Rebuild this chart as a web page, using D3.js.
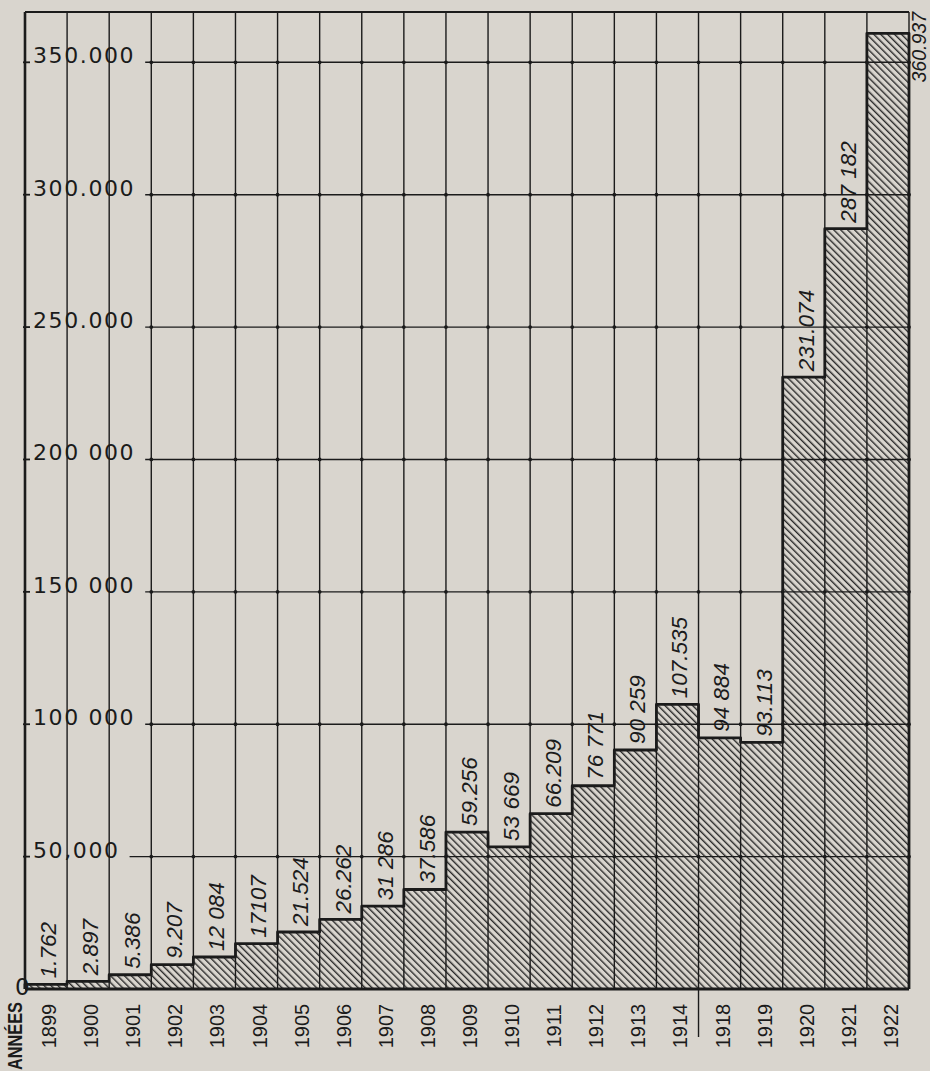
<!DOCTYPE html>
<html>
<head>
<meta charset="utf-8">
<script src="https://cdn.jsdelivr.net/npm/d3@7/dist/d3.min.js"></script>
<style>
  html, body { margin: 0; padding: 0; background: #d9d5ce; }
  svg { display: block; }
</style>
</head>
<body>
<svg id="chart" width="930" height="1071"></svg>
<script>
// Years shown on the horizontal axis (1915-1917 are skipped)
const years = ["1899","1900","1901","1902","1903","1904","1905","1906","1907","1908",
               "1909","1910","1911","1912","1913","1914","1918","1919","1920","1921","1922"];
// Yearly totals
const values = [1762, 2897, 5386, 9207, 12084, 17107, 21524, 26262, 31286, 37586,
                59256, 53669, 66209, 76771, 90259, 107535, 94884, 93113, 231074, 287182, 360937];
// Value labels written above each bar
const valueLabels = ["1.762","2.897","5.386","9.207","12 084","17107","21.524","26.262","31 286","37.586",
                     "59.256","53 669","66.209","76 771","90 259","107.535","94 884","93.113","231.074","287 182","360.937"];
// Vertical axis ticks and their labels
const tickValues = [0, 50000, 100000, 150000, 200000, 250000, 300000, 350000];
const tickLabels = ["0","50,000","100 000","150 000","200 000","250.000","300.000","350.000"];
const axisTitle = "ANNÉES";

const ink = "#1b1b1b";
const plotLeft = 25, plotRight = 909, plotTop = 12, plotBase = 989;

const svg = d3.select("#chart");
svg.append("rect").attr("width", 930).attr("height", 1071).attr("fill", "#d9d5ce");

const x = d3.scaleBand().domain(years).range([plotLeft, plotRight]).padding(0);
const y = d3.scaleLinear().domain([0, 369000]).range([plotBase, plotTop]);

// diagonal hatching for the bars
const defs = svg.append("defs");
const pat = defs.append("pattern")
  .attr("id", "hatch").attr("patternUnits", "userSpaceOnUse")
  .attr("width", 4.9).attr("height", 10)
  .attr("patternTransform", "rotate(-45)");
pat.append("rect").attr("x", 0).attr("y", 0).attr("width", 1.4).attr("height", 10).attr("fill", "#2a2a2a");

// bars
svg.append("g").selectAll("rect").data(years).join("rect")
  .attr("x", d => x(d))
  .attr("y", (d, i) => y(values[i]))
  .attr("width", x.bandwidth())
  .attr("height", (d, i) => y(0) - y(values[i]))
  .attr("fill", "url(#hatch)");

// vertical column lines
const grid = svg.append("g").attr("stroke", ink).attr("fill", "none");
const bounds = years.map(d => x(d)).concat([plotRight]);
grid.selectAll("line.v").data(bounds).join("line")
  .attr("class", "v")
  .attr("x1", d => d).attr("x2", d => d)
  .attr("y1", plotTop).attr("y2", plotBase)
  .attr("stroke-width", (d, i) => (i === 0 ? 2.6 : 1.4));

// top border
grid.append("line").attr("x1", plotLeft).attr("x2", plotRight)
  .attr("y1", plotTop).attr("y2", plotTop).attr("stroke-width", 2);

// y-axis labels, horizontal lines start after each label
const yl = svg.append("g").attr("font-family", "DejaVu Sans, sans-serif").attr("fill", ink);
tickValues.forEach((v, i) => {
  if (v === 0) {
    yl.append("text").attr("x", 15).attr("y", y(0) + 6)
      .attr("font-size", 23).text(tickLabels[i]);
    return;
  }
  const t = yl.append("text").attr("x", 33).attr("y", y(v) + 1)
    .attr("font-size", 22).attr("letter-spacing", 1.6).text(tickLabels[i]);
  const end = 33 + t.node().getComputedTextLength() + 10;
  grid.append("line").attr("x1", end).attr("x2", plotRight)
    .attr("y1", y(v)).attr("y2", y(v)).attr("stroke-width", 1.4);
  // small tick on the left axis
  grid.append("line").attr("x1", plotLeft - 2).attr("x2", plotLeft + 5)
    .attr("y1", y(v)).attr("y2", y(v)).attr("stroke-width", 1.8);
  // dots at the grid crossings
  bounds.forEach(bx => {
    if (bx > end) {
      svg.append("circle").attr("cx", bx).attr("cy", y(v)).attr("r", 1.9).attr("fill", ink);
    }
  });
});

// step outline along the bar tops
const pts = [[x(years[0]), y(0)]]
  .concat(years.map((d, i) => [x(d), y(values[i])]))
  .concat([[plotRight, y(values[values.length - 1])], [plotRight, y(0)]]);
svg.append("path")
  .attr("d", d3.line().curve(d3.curveStepAfter)(pts))
  .attr("fill", "none").attr("stroke", ink).attr("stroke-width", 2.8)
  .attr("stroke-linejoin", "round");

// baseline
svg.append("line").attr("x1", plotLeft).attr("x2", plotRight)
  .attr("y1", plotBase).attr("y2", plotBase)
  .attr("stroke", ink).attr("stroke-width", 2.8);

// value labels, rotated, above each bar
const vl = svg.append("g").attr("font-family", "Liberation Sans, Arial, sans-serif")
  .attr("font-style", "italic").attr("font-size", 22.5).attr("fill", ink);
years.forEach((d, i) => {
  const cx = x(d) + x.bandwidth() / 2 + 2;
  const t = vl.append("text").text(valueLabels[i]);
  const len = t.node().getComputedTextLength();
  const yStart = y(values[i]) - 6;
  if (yStart - len < plotTop + 4) {
    // no room inside the column: write it beside the last column
    t.attr("text-anchor", "end").attr("dy", "0.35em").attr("font-size", 19.5)
      .attr("transform", `translate(${plotRight + 10},${plotTop}) rotate(-90)`);
  } else {
    t.attr("text-anchor", "start").attr("dy", "0.35em")
      .attr("transform", `translate(${cx},${yStart}) rotate(-90)`);
  }
});

// year labels
const xl = svg.append("g").attr("font-family", "Liberation Sans, Arial, sans-serif")
  .attr("font-size", 20).attr("fill", ink).attr("text-anchor", "middle");
years.forEach(d => {
  xl.append("text").attr("dy", "0.35em")
    .attr("transform", `translate(${x(d) + x.bandwidth() / 2 + 3},${plotBase + 37}) rotate(-90)`)
    .text(d);
});
xl.append("text").attr("dy", "0.35em").attr("font-weight", "bold").attr("font-size", 21)
  .attr("textLength", 68).attr("lengthAdjust", "spacingAndGlyphs")
  .attr("transform", `translate(15,${plotBase + 47}) rotate(-90)`)
  .text(axisTitle);

// gap marker between 1914 and 1918
svg.append("line").attr("x1", x("1918")).attr("x2", x("1918"))
  .attr("y1", plotBase).attr("y2", plotBase + 48).attr("stroke", ink).attr("stroke-width", 1.4);
</script>
</body>
</html>
